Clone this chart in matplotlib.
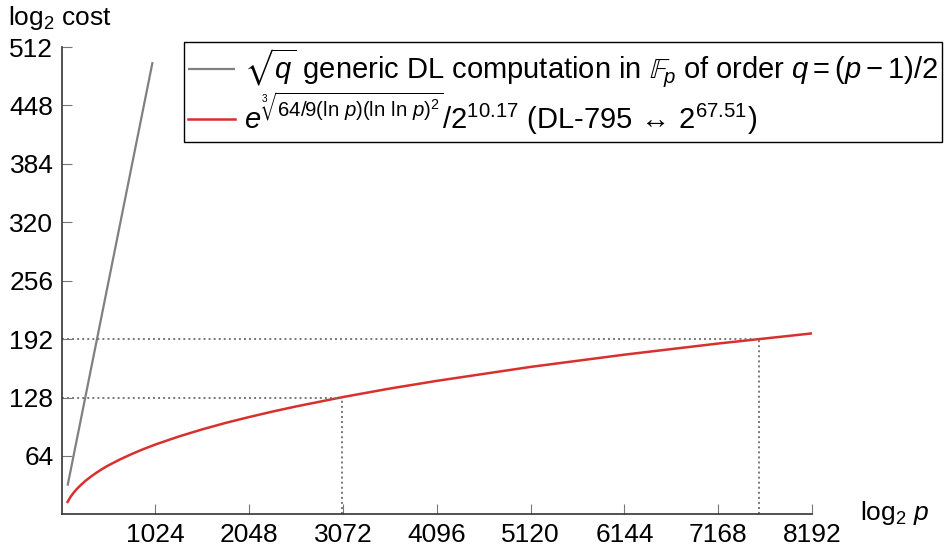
import matplotlib
matplotlib.use("Agg")
import matplotlib.pyplot as plt

# ---- data ----
generic_x = [64, 992]
generic_y = [31.5, 495.5]

nfs_x = [64, 96, 128, 160, 192, 256, 320, 384, 448, 512, 640, 768, 896, 1024,
         1280, 1536, 1792, 2048, 2304, 2560, 3072, 3584, 4096, 5120, 6144,
         7168, 8192]
nfs_y = [13.7, 19.1, 23.5, 27.3, 30.6, 36.5, 41.5, 46.0, 50.1, 53.8, 60.4,
         66.3, 71.7, 76.6, 85.4, 93.2, 100.3, 106.7, 112.7, 118.3, 128.6,
         137.9, 146.3, 161.6, 175.0, 187.2, 198.3]

guide_levels = [128, 192]
guide_x = [3060, 7608]

x_ticks = [1024, 2048, 3072, 4096, 5120, 6144, 7168, 8192]
y_ticks = [64, 128, 192, 256, 320, 384, 448, 512]

label_generic = r"$\sqrt{q}$ generic DL computation in $\mathbb{F}_p$ of order $q=(p-1)/2$"
label_nfs = r"$e^{\sqrt[3]{64/9(\ln\,p)(\ln\,\ln\,p)^2}}/2^{10.17}$ (DL-795 $\!\leftrightarrow\!$ $2^{67.51}$)"

# ---- style ----
plt.rcParams['font.family'] = ['Liberation Sans', 'DejaVu Sans']
plt.rcParams['mathtext.fontset'] = 'custom'
plt.rcParams['mathtext.rm'] = 'Liberation Sans'
plt.rcParams['mathtext.it'] = 'Liberation Sans:italic'
plt.rcParams['mathtext.bf'] = 'Liberation Sans:bold'
plt.rcParams['mathtext.sf'] = 'Liberation Sans'
plt.rcParams['mathtext.fallback'] = 'stixsans'

FS = 19
LFS = 21
fig = plt.figure(figsize=(9.45, 5.47), dpi=100)
ax = fig.add_axes([0.0653, 0.0596, 0.8593 - 0.0653, 0.914 - 0.0596])

gray = '#808080'
red = '#d8302d'

l1, = ax.plot(generic_x, generic_y, color=gray, lw=1.6, solid_capstyle='butt')
l2, = ax.plot(nfs_x, nfs_y, color=red, lw=1.8)

for lvl, gx in zip(guide_levels, guide_x):
    ax.plot([0, gx], [lvl, lvl], color='#777777', lw=1.4, ls=(0, (1, 1.6)))
    ax.plot([gx, gx], [0, lvl], color='#777777', lw=1.4, ls=(0, (1, 1.6)))

ax.set_xlim(0, 8192)
ax.set_ylim(0, 512)
ax.set_xticks(x_ticks)
ax.set_yticks(y_ticks)
ax.tick_params(direction='in', length=7, width=0.8, color='#777777',
               labelsize=FS, pad=6)
for s in ['top', 'right']:
    ax.spines[s].set_visible(False)
for s in ['left', 'bottom']:
    ax.spines[s].set_color('#333333')
    ax.spines[s].set_linewidth(1.2)

fig.text(8 / 945, 1 - 18 / 547, r"log$_2$ cost", fontsize=FS, va='center', ha='left')
fig.text(860 / 945, 1 - 513 / 547, r"log$_2$ $p$", fontsize=FS, va='center', ha='left')

leg = fig.legend([l1, l2], [label_generic, label_nfs], loc='upper right',
                 bbox_to_anchor=(942 / 945, 1 - 42 / 547), fontsize=LFS,
                 frameon=True, fancybox=False, borderaxespad=0,
                 handlelength=1.6, handletextpad=0.3, labelspacing=0.05,
                 borderpad=0.15)
leg.get_frame().set_edgecolor('black')
leg.get_frame().set_linewidth(1.0)
leg.get_frame().set_alpha(1)

fig.savefig('out.png', dpi=100)
